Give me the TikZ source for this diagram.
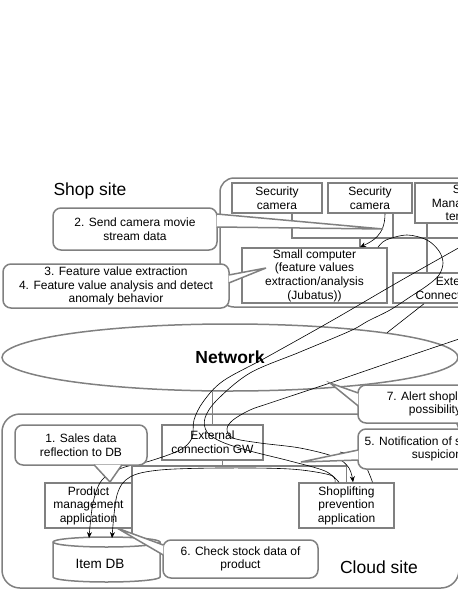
\documentclass[tikz,border=0pt]{standalone}
\usepackage{fontspec}
\setmainfont{Liberation Sans}
\usetikzlibrary{arrows.meta, shapes.geometric}

\definecolor{linegray}{RGB}{128, 128, 128}
\newcommand{\boxfont}{\fontsize{12}{13.6}\selectfont}
\newcommand{\sitefont}{\fontsize{17.5}{20}\selectfont}

\tikzset{
  unit/.style = {draw = linegray, line width = 1.5pt, fill = white,
                 align = center, inner sep = 0pt, font = \boxfont},
  note/.style = {unit, rounded corners = 8pt},
  tail/.style = {draw = linegray, line width = 1.5pt, fill = white},
  link/.style = {draw = linegray, line width = 1.5pt},
  site/.style = {draw = linegray, line width = 1.5pt},
  flow/.style = {draw = black, line width = 0.6pt},
  tip/.style = {-{Stealth[length = 6pt, width = 5pt]}}
}

\begin{document}
\begin{tikzpicture}[x = 1pt, y = -1pt]
\useasboundingbox (0, 0) rectangle (458, 592);

\draw[site, rounded corners = 14pt] (220, 178) rectangle (545, 307);
\draw[site, rounded corners = 18pt] (2, 414) rectangle (459, 588);
\node[font = \sitefont] (shoplabel) at (90, 191) {Shop site};
\node[font = \sitefont] (cloudlabel) at (379, 567) {Cloud site};

\node[ellipse, draw = linegray, line width = 1.5pt,
      minimum width = 456pt, minimum height = 67pt, inner sep = 0pt,
      font = \bfseries\sitefont] (network) at (230, 357.5) {Network};

\node[unit, minimum width = 90pt, minimum height = 30pt] (cam1) at (277, 198) {Security\\camera};
\node[unit, minimum width = 84pt, minimum height = 30pt] (cam2) at (370, 198) {Security\\camera};
\node[unit, minimum width = 104pt, minimum height = 40pt] (terminal) at (467, 203) {Shop\\Management\\terminal};
\node[unit, minimum width = 145pt, minimum height = 55pt] (smallpc) at (314.5, 275.5)
     {Small computer\\(feature values\\extraction/analysis\\(Jubatus))};
\node[unit, minimum width = 130pt, minimum height = 30pt] (shopgw) at (458, 288) {External\\Connection GW};

\node[unit, minimum width = 101pt, minimum height = 35pt] (cloudgw) at (212.5, 442.5) {External\\connection GW};
\node[unit, minimum width = 87pt, minimum height = 45pt] (prodapp) at (88.5, 505.5) {Product\\management\\application};
\node[unit, minimum width = 95pt, minimum height = 45pt] (shopliftapp) at (346.5, 505.5) {Shoplifting\\prevention\\application};

\coordinate (cloudbus) at (0, 466);
\draw[link] ([xshift = 15pt]cam1.south) |- (545, 238);
\draw[link] ([xshift = 23pt]cam2.south) -- ++(0, 25);
\draw[link] ([xshift = -40pt]terminal.south) -- ([xshift = -31pt]shopgw.north);
\draw[link] ([xshift = 45.5pt]smallpc.north) -- ++(0, -10);
\draw[link] (network.south -| cloudgw.north) -- (cloudgw.north);
\draw[link] ([xshift = 10pt]cloudgw.south) -- (cloudbus -| 222.5, 0);
\draw[link] (132, 546) |- (cloudbus -| shopliftapp.north) -- (shopliftapp.north);

\draw[link, fill = white] (53, 542) -- (53, 577)
     arc[start angle = 180, end angle = 0, x radius = 53.5, y radius = 5] -- (160, 542)
     arc[start angle = 0, end angle = -180, x radius = 53.5, y radius = 5] -- cycle;
\draw[link] (53, 542) arc[start angle = 180, end angle = 0, x radius = 53.5, y radius = 5];
\node[font = \fontsize{13.5}{15}\selectfont] (itemdb) at (100, 564) {Item DB};
\coordinate (dbin1) at (89, 538);
\coordinate (dbin2) at (112, 538);

\draw[flow, tip] ([xshift = 15pt]cam2.south) .. controls +(0, 22) and +(12, -6) .. ([xshift = 45.5pt]smallpc.north);
\draw[flow] ([xshift = -34pt]shopgw.south) -- (network.9);
\draw[flow, tip] plot[smooth, tension = 0.55] coordinates {
     (462, 246) (400, 281) (333, 320) (267, 357) (223, 381) (203, 402) (194, 420) (192, 438)
     (180, 450) (150, 461) (122, 468) (102, 480) (93, 503) (dbin1)};
\draw[flow] plot[smooth, tension = 0.55] coordinates {
     ([xshift = 63.5pt]smallpc.north) (386, 240) (407, 235) (427, 240) (439, 251) (443, 263)
     (439, 275) (428, 285) (410, 297) (390, 310) (368, 321) (350, 331) (300, 352) (250, 373)
     (217, 400) (205, 418) (207, 432) (222, 442) (250, 451) (290, 461) (325, 471)
     ([xshift = -7.5pt]shopliftapp.north)};
\draw[flow, tip] plot[smooth, tension = 0.55] coordinates {
     (462, 338) (397, 360) (330, 383) (270, 403) (250, 410) (233, 420) (227, 429) (233, 438)
     (260, 443) (300, 448) (335, 457) (349, 468) ([xshift = 6.5pt]shopliftapp.north)};
\draw[flow, tip] plot[smooth, tension = 0.55] coordinates {
     ([xshift = -11.5pt]shopliftapp.north) (330, 475) (290, 469) (220, 468) (160, 470)
     (130, 477) (117, 495) (dbin2)};
\draw[flow] plot[smooth, tension = 0.55] coordinates {
     (340, 452) (356, 457) (366, 467) ([xshift = 26pt]shopliftapp.north)};

\node[note, minimum width = 164pt, minimum height = 42pt] (note2) at (135, 229) {2. Send camera movie\\stream data};
\coordinate (tip2) at (383, 229);
\filldraw[tail] ([xshift = -1pt, yshift = 15pt]note2.east) -- (tip2) -- ([xshift = -1pt, yshift = 2pt]note2.east);

\node[note, minimum width = 226pt, minimum height = 44pt] (note3) at (116, 286)
     {3. Feature value extraction\\4. Feature value analysis and detect\\anomaly behavior};
\coordinate (tip3) at (266, 268);
\filldraw[tail] ([xshift = -1pt, yshift = 11pt]note3.east) -- (tip3) -- ([xshift = -1pt, yshift = 3pt]note3.east);

\node[note, minimum width = 154pt, minimum height = 38pt] (note7) at (435, 404) {7. Alert shoplifting\\possibility};
\coordinate (tip7) at (330, 383);
\filldraw[tail] ([xshift = 1pt, yshift = 11pt]note7.west) -- (tip7) -- ([xshift = 1pt, yshift = -2pt]note7.west);

\node[note, minimum width = 158pt, minimum height = 40pt] (note5) at (437, 449) {5. Notification of shoplifting\\suspicion};
\coordinate (tip5) at (301, 462);
\filldraw[tail] ([xshift = 1pt, yshift = -1pt]note5.west) -- (tip5) -- ([xshift = 1pt, yshift = -11pt]note5.west);

\node[note, minimum width = 132pt, minimum height = 40pt] (note1) at (81, 445) {1. Sales data\\reflection to DB};
\coordinate (tip1) at (110, 482);
\filldraw[tail] ([xshift = 13pt, yshift = 1pt]note1.south) -- (tip1) -- ([xshift = 41pt, yshift = 1pt]note1.south);

\node[note, minimum width = 155pt, minimum height = 38pt] (note6) at (240.5, 559) {6. Check stock data of\\product};
\coordinate (tip6) at (117, 528);
\filldraw[tail] ([xshift = 1pt, yshift = 14pt]note6.west) -- (tip6) -- ([xshift = 1pt, yshift = 4pt]note6.west);
\end{tikzpicture}
\end{document}
